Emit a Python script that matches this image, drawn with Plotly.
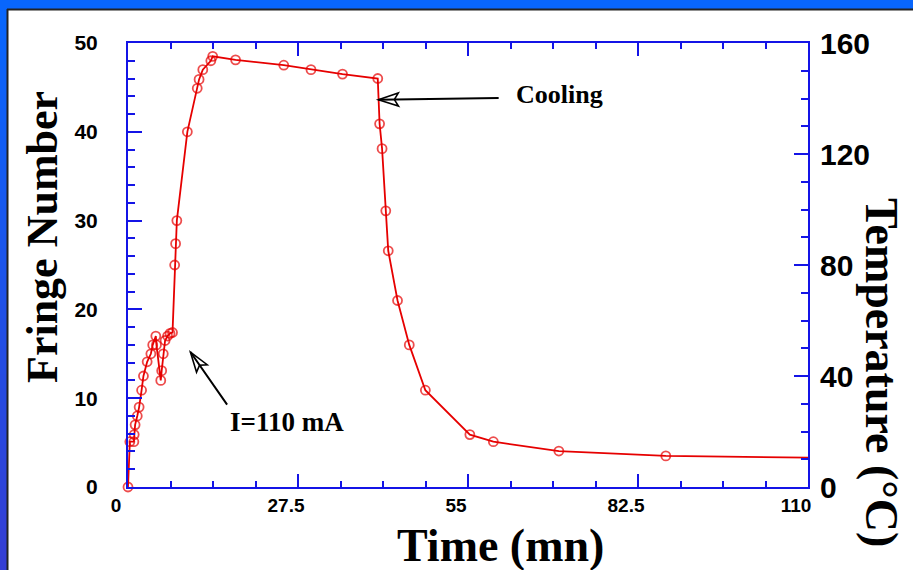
import math
import plotly.graph_objects as go

# ---- data ---------------------------------------------------------------
time_mn = [0, 0.3, 0.95, 1.0, 1.15, 1.5, 1.8, 2.2, 2.5, 3.1, 3.7, 4.0, 4.5, 4.6,
           5.3, 5.45, 5.7, 6.0, 6.4, 6.8, 7.2, 7.55, 7.7, 7.9, 9.6, 11.2, 11.5,
           12.1, 13.4, 13.7, 17.4, 25.2, 29.6, 34.7, 40.4, 40.7, 41.1, 41.7,
           42.1, 43.6, 45.5, 48.1, 55.3, 59.1, 69.7, 87.0, 110]
fringe = [0, 5.1, 5.1, 5.9, 7.0, 8.0, 9.0, 10.9, 12.5, 14.1, 15.0, 16.0, 17.0, 16.0,
          12.0, 13.1, 15.0, 16.5, 17.0, 17.3, 17.4, 25.0, 27.4, 30.0, 40.0, 44.9, 45.9,
          47.0, 48.0, 48.5, 48.1, 47.5, 47.0, 46.5, 46.0, 40.9, 38.1, 31.1,
          26.6, 21.0, 16.0, 10.9, 5.9, 5.1, 4.05, 3.5, 3.3]

time_ticks = [0, 27.5, 55, 82.5, 110]
time_tick_text = ["0", "27.5", "55", "82.5", "110"]
fringe_ticks = [0, 10, 20, 30, 40, 50]
temp_ticks = [0, 40, 80, 120, 160]

# ---- geometry / style ---------------------------------------------------
W, H = 913, 570
L, R, T, B = 128, 105, 43, 83
PW, PH = W - L - R, H - T - B

RED = "#e60000"
BLUE = "#1414e6"
SANS = "Liberation Sans, Arial, sans-serif"
SERIF = "Liberation Serif, Times New Roman, serif"


def px(xp):
    return (xp - L) / PW


def py(yp):
    return (H - B - yp) / PH


X_RANGE = [0, 110]
Y_RANGE = [0, 50]
X_SCALE = PW / (X_RANGE[1] - X_RANGE[0])
Y_SCALE = PH / (Y_RANGE[1] - Y_RANGE[0])

fig = go.Figure()

marker_sizes = [9] * (len(time_mn) - 1) + [0]
fig.add_trace(go.Scatter(
    x=time_mn, y=fringe, mode="lines+markers",
    line=dict(color=RED, width=1.8),
    marker=dict(symbol="circle-open", size=marker_sizes, color=RED,
                line=dict(width=1.8, color=RED)),
    cliponaxis=False, showlegend=False, hoverinfo="x+y",
))
# empty trace so the temperature axis gets its own overlay
fig.add_trace(go.Scatter(x=[], y=[], yaxis="y2", showlegend=False, hoverinfo="skip"))

shapes = []
# frame: blue border on top and left, white panel
shapes.append(dict(type="rect", xref="paper", yref="paper", layer="below",
                   x0=px(8), x1=px(W + 5), y0=py(H + 5), y1=py(10),
                   fillcolor="white", line=dict(width=0)))
n_strips = 40
top_rgb = (8, 102, 252)
bot_rgb = (52, 62, 212)
for i in range(n_strips):
    f = i / (n_strips - 1)
    c = tuple(round(a + (b - a) * f) for a, b in zip(top_rgb, bot_rgb))
    y_top = 10 + i * (H - 10) / n_strips
    y_bot = 10 + (i + 1) * (H - 10) / n_strips + 1
    shapes.append(dict(type="rect", xref="paper", yref="paper", layer="below",
                       x0=px(-2), x1=px(7), y0=py(y_bot), y1=py(y_top),
                       fillcolor="rgb(%d,%d,%d)" % c, line=dict(width=0)))
shapes.append(dict(type="line", xref="paper", yref="paper", layer="below",
                   x0=px(7), x1=px(W + 5), y0=py(9.5), y1=py(9.5),
                   line=dict(color="#222222", width=2)))
shapes.append(dict(type="line", xref="paper", yref="paper", layer="below",
                   x0=px(7.5), x1=px(7.5), y0=py(H + 5), y1=py(9),
                   line=dict(color="#222222", width=2)))


def open_head(tip, tail, length=20, half=6.5, notch=4):
    dx = (tail[0] - tip[0]) * X_SCALE
    dy = (tail[1] - tip[1]) * Y_SCALE
    n = math.hypot(dx, dy)
    ux, uy = dx / n, dy / n
    nx, ny = -uy, ux
    a = (ux * length + nx * half, uy * length + ny * half)
    m = (ux * (length - notch), uy * (length - notch))
    b = (ux * length - nx * half, uy * length - ny * half)
    path = "M0,0 L%.2f,%.2f L%.2f,%.2f L%.2f,%.2f Z" % (a[0], a[1], m[0], m[1], b[0], b[1])
    return dict(type="path", xref="x", yref="y", xsizemode="pixel", ysizemode="pixel",
                xanchor=tip[0], yanchor=tip[1], path=path,
                line=dict(color="black", width=1.6), fillcolor="rgba(0,0,0,0)")


cool_tip, cool_tail = (40.5, 43.6), (60.2, 43.8)
cur_tip, cur_tail = (10.1, 15.2), (16.2, 9.1)
shapes.append(open_head(cool_tip, cool_tail))
shapes.append(open_head(cur_tip, cur_tail))

annotations = []
for tip, tail in [(cool_tip, cool_tail), (cur_tip, cur_tail)]:
    annotations.append(dict(x=tip[0], y=tip[1], ax=tail[0], ay=tail[1],
                            xref="x", yref="y", axref="x", ayref="y", text="",
                            showarrow=True, arrowhead=0, arrowwidth=2,
                            arrowcolor="black", standoff=0, startstandoff=0))
annotations.append(dict(x=62.5, y=44.2, xref="x", yref="y", text="Cooling",
                        showarrow=False, xanchor="left", yanchor="middle",
                        font=dict(family=SERIF, size=26, color="black", weight="bold")))
annotations.append(dict(x=25.7, y=7.35, xref="x", yref="y", text="I=110 mA",
                        showarrow=False, xanchor="center", yanchor="middle",
                        font=dict(family=SERIF, size=27, color="black", weight="bold")))
annotations.append(dict(x=px(42), y=py(237), xref="paper", yref="paper",
                        text="Fringe Number", textangle=-90, showarrow=False,
                        xanchor="center", yanchor="middle",
                        font=dict(family=SERIF, size=44, color="black", weight="bold")))
annotations.append(dict(x=px(500), y=py(545), xref="paper", yref="paper",
                        text="Time (mn)", showarrow=False,
                        xanchor="center", yanchor="middle",
                        font=dict(family=SERIF, size=46, color="black", weight="bold")))
annotations.append(dict(x=px(882), y=py(372), xref="paper", yref="paper",
                        text="Temperature (°C)", textangle=90, showarrow=False,
                        xanchor="center", yanchor="middle",
                        font=dict(family=SERIF, size=46, color="black", weight="bold")))

axis_common = dict(showgrid=False, zeroline=False, showline=True, linecolor=BLUE,
                   linewidth=2, ticks="inside", tickcolor=BLUE, tickwidth=2,
                   automargin=False)

fig.update_layout(
    width=W, height=H,
    margin=dict(l=L, r=R, t=T, b=B, pad=0),
    paper_bgcolor="rgb(8,102,252)",
    plot_bgcolor="white",
    showlegend=False,
    shapes=shapes,
    annotations=annotations,
    xaxis=dict(**axis_common, range=X_RANGE, tickmode="array", tickvals=time_ticks,
               ticktext=time_tick_text, ticklen=13, mirror="ticks",
               minor=dict(dtick=6.875, tick0=0, ticks="inside", ticklen=6,
                          tickwidth=1.5, tickcolor=BLUE),
               tickfont=dict(family=SANS, size=19, color="black", weight="bold"),
               ticklabelshift=-12, ticklabelstandoff=0),
    yaxis=dict(**axis_common, range=Y_RANGE, tickmode="array", tickvals=fringe_ticks,
               ticklen=14,
               minor=dict(dtick=2, tick0=0, ticks="inside", ticklen=7,
                          tickwidth=1.5, tickcolor=BLUE),
               tickfont=dict(family=SANS, size=21, color="black", weight="bold"),
               ticklabelstandoff=24),
    yaxis2=dict(**axis_common, range=[0, 160], overlaying="y", side="right",
                tickmode="array", tickvals=temp_ticks, ticklen=14,
                minor=dict(dtick=10, tick0=0, ticks="inside", ticklen=7,
                           tickwidth=1.5, tickcolor=BLUE),
                tickfont=dict(family=SANS, size=30, color="black", weight="bold"),
                ticklabelstandoff=4),
)

fig.write_html("out.html")
